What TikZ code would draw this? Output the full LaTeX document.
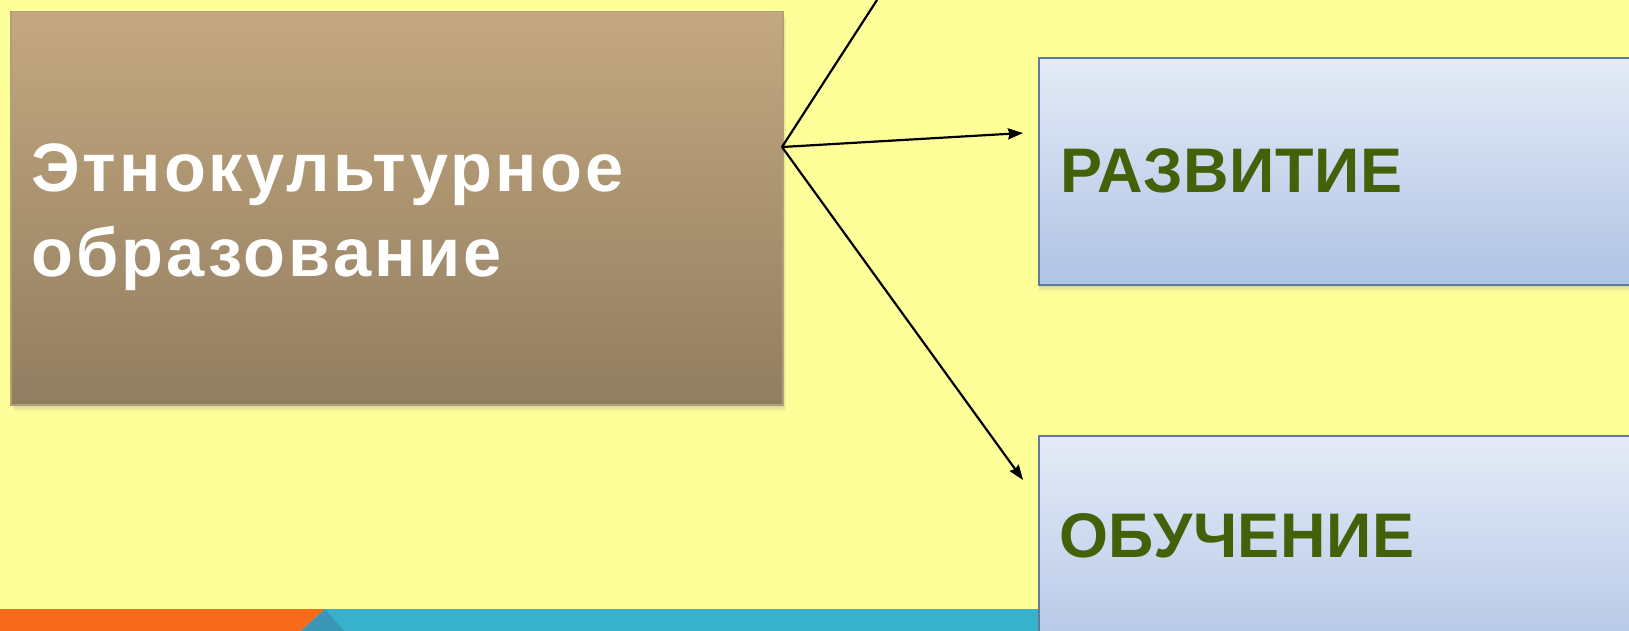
\documentclass[tikz,border=0pt]{standalone}
\usepackage{fontspec}
\setmainfont{Liberation Sans}
\newfontfamily\widefont[LetterSpace=4.5]{Liberation Sans}
\newfontfamily\greenfont[LetterSpace=1.0]{Liberation Sans}
\usetikzlibrary{arrows.meta,shadows}
\definecolor{bgyellow}{RGB}{255,255,153}
\definecolor{browntop}{RGB}{196,168,128}
\definecolor{brownbot}{RGB}{145,125,96}
\definecolor{brownedge}{RGB}{178,158,122}
\definecolor{bluetop}{RGB}{229,235,247}
\definecolor{bluebot}{RGB}{175,195,228}
\definecolor{blueedge}{RGB}{94,122,160}
\definecolor{txtgreen}{RGB}{68,97,10}
\definecolor{barorange}{RGB}{249,107,27}
\definecolor{barblue}{RGB}{56,178,204}
\definecolor{bardark}{RGB}{58,151,181}
\tikzset{
  softshadow/.style={
    drop shadow={opacity=0.10, shadow xshift=#1*0.5pt, shadow yshift=-2pt},
    drop shadow={opacity=0.10, shadow xshift=#1*1pt, shadow yshift=-4pt},
    drop shadow={opacity=0.10, shadow xshift=#1*1.5pt, shadow yshift=-6pt}},
  brownbox/.style={rectangle, inner sep=0pt, top color=browntop, bottom color=brownbot, draw=brownedge, line width=1.5pt,
    softshadow=2},
  bluebox/.style={rectangle, inner sep=0pt, top color=bluetop, bottom color=bluebot, draw=blueedge, line width=2pt,
    softshadow=0},
  bigtxt/.style={font=\widefont\fontsize{68.5}{84}\selectfont\bfseries, text=white, inner sep=0pt},
  greentxt/.style={font=\greenfont\fontsize{63}{76}\selectfont\bfseries, text=txtgreen, inner sep=0pt},
  conn/.style={line width=2.2pt, draw=black},
  arr/.style={conn, -{Stealth[length=15pt,width=11pt,inset=1.5pt]}}
}
\begin{document}
\begin{tikzpicture}[x=1pt,y=-1pt]
\useasboundingbox (0,0) rectangle (1629,631);
\fill[bgyellow] (0,0) rectangle (1629,631);
% bottom bar
\fill[barorange] (0,609) -- (325,609) -- (301,631) -- (0,631) -- cycle;
\fill[barblue] (325,609) -- (1629,609) -- (1629,631) -- (301,631) -- cycle;
\fill[bardark] (325,609) -- (344,631) -- (301,631) -- cycle;
% left box
\node[brownbox, minimum width=772pt, minimum height=393pt, anchor=north west] (edu) at (10,11) {};
\node[bigtxt, anchor=base west] (edu1) at (31,192) {Этнокультурное};
\node[bigtxt, anchor=base west] (edu2) at (31,276) {образование};
% right boxes
\node[bluebox, minimum width=650pt, minimum height=227pt, anchor=north west] (dev) at (1038,57) {};
\node[greentxt, anchor=base west] (devt) at (1060,193) {РАЗВИТИЕ};
\node[bluebox, minimum width=650pt, minimum height=240pt, anchor=north west] (learn) at (1038,435) {};
\node[greentxt, anchor=base west] (learnt) at (1059,557) {ОБУЧЕНИЕ};
% connectors
\coordinate (o) at (782,147);
\coordinate (up) at (877,0);
\coordinate (a1) at (1023,133);
\coordinate (a2) at (1023,480);
\draw[conn] (o) -- (up);
\draw[arr] (o) -- (a1);
\draw[arr] (o) -- (a2);
\end{tikzpicture}
\end{document}
